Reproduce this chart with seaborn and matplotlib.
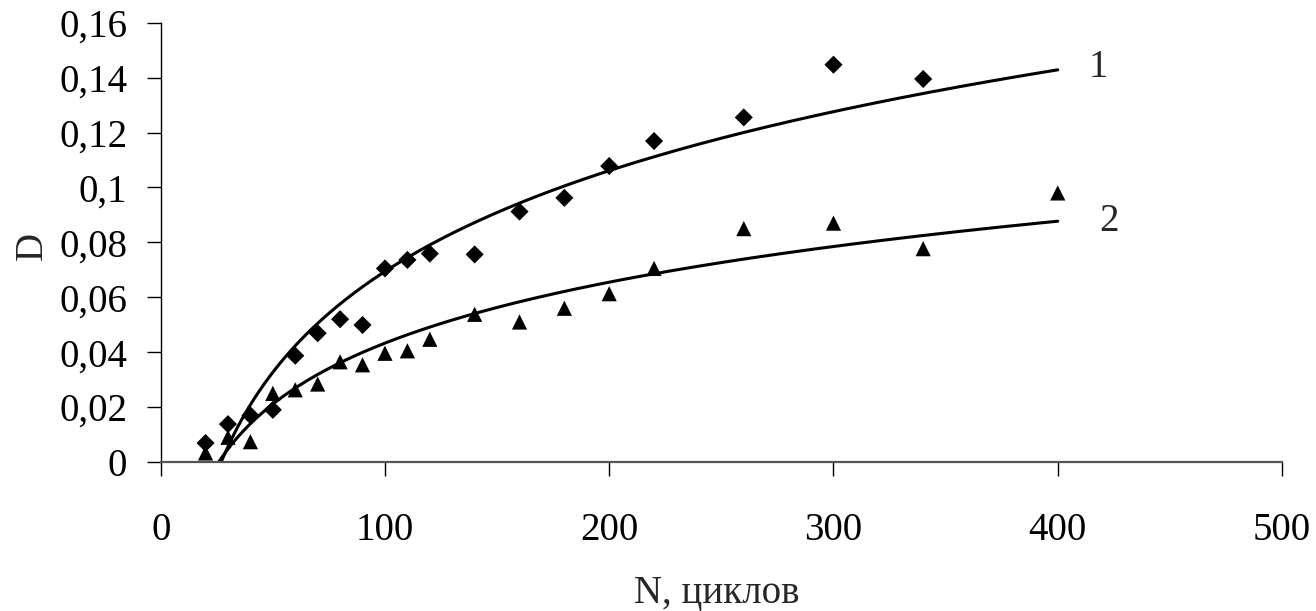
import numpy as np
import pandas as pd
import matplotlib
matplotlib.use("Agg")
import matplotlib.pyplot as plt
import seaborn as sns

# Measured damage D versus number of loading cycles N
n_series1 = [20, 30, 40, 50, 60, 70, 80, 90, 100, 110, 120, 140, 160, 180, 200, 220, 260, 300, 340]
d_series1 = [0.0069, 0.0138, 0.0170, 0.0190, 0.0387, 0.0469, 0.0520, 0.0499, 0.0705, 0.0736,
             0.0759, 0.0756, 0.0912, 0.0962, 0.1078, 0.1169, 0.1255, 0.1447, 0.1395]

n_series2 = [20, 30, 40, 50, 60, 70, 80, 90, 100, 110, 120, 140, 160, 180, 200, 220, 260, 300, 340, 400]
d_series2 = [0.0033, 0.0090, 0.0074, 0.0250, 0.0263, 0.0284, 0.0365, 0.0354, 0.0396, 0.0405,
             0.0447, 0.0538, 0.0510, 0.0560, 0.0613, 0.0705, 0.0850, 0.0870, 0.0777, 0.0980]

curve_labels = ["1", "2"]
x_ticks = [0, 100, 200, 300, 400, 500]
y_ticks = [0, 0.02, 0.04, 0.06, 0.08, 0.10, 0.12, 0.14, 0.16]
y_tick_labels = ["0", "0,02", "0,04", "0,06", "0,08", "0,1", "0,12", "0,14", "0,16"]

sns.set_theme(style="white")
plt.rcParams["font.family"] = ["Liberation Serif", "DejaVu Serif"]
FS = 28

fig = plt.figure(figsize=(13.16, 6.11), dpi=100)
ax = fig.add_axes([160.7 / 1316, 1 - 462 / 611, (1282 - 160.7) / 1316, (462 - 22.7) / 611])

df1 = pd.DataFrame({"N": n_series1, "D": d_series1})
df2 = pd.DataFrame({"N": n_series2, "D": d_series2})

# Logarithmic trend lines D = a*ln(N) + b fitted to each series
n_fit = np.linspace(20, 400, 300)
fits = []
for df in (df1, df2):
    a, b = np.polyfit(np.log(df["N"]), df["D"], 1)
    fits.append(pd.DataFrame({"N": n_fit, "D": a * np.log(n_fit) + b}))

for fit in fits:
    sns.lineplot(data=fit, x="N", y="D", ax=ax, color="black", linewidth=2.2)

sns.scatterplot(data=df1, x="N", y="D", ax=ax, marker="D", s=85, color="black",
                edgecolor="none", zorder=3)
sns.scatterplot(data=df2, x="N", y="D", ax=ax, marker="^", s=120, color="black",
                edgecolor="none", zorder=3)

ax.text(418, 0.1436, curve_labels[0], fontsize=FS, ha="center", va="center")
ax.text(423, 0.0875, curve_labels[1], fontsize=FS, ha="center", va="center")

ax.set_xlim(0, 500)
ax.set_ylim(0, 0.16)
ax.set_xticks(x_ticks)
ax.set_xticklabels([str(t) for t in x_ticks])
ax.set_yticks(y_ticks)
ax.set_yticklabels(y_tick_labels)

ax.tick_params(axis="both", labelsize=FS, colors="black", direction="out",
               length=10, width=1.0, left=True, bottom=True)
ax.tick_params(axis="y", pad=14)
ax.tick_params(axis="x", pad=26)

for side in ("top", "right"):
    ax.spines[side].set_visible(False)
ax.spines["left"].set_color("black")
ax.spines["left"].set_linewidth(1.0)
ax.spines["bottom"].set_color("#555555")
ax.spines["bottom"].set_linewidth(1.6)

ax.set_xlabel("N, циклов", fontsize=FS)
ax.set_ylabel("D", fontsize=FS)
ax.xaxis.set_label_coords(0.496, -0.257)
ax.yaxis.set_label_coords(-0.098, 0.492)
ax.grid(False)
ax.set_facecolor("white")
fig.patch.set_facecolor("white")

fig.savefig("out.png", dpi=100, facecolor="white")
